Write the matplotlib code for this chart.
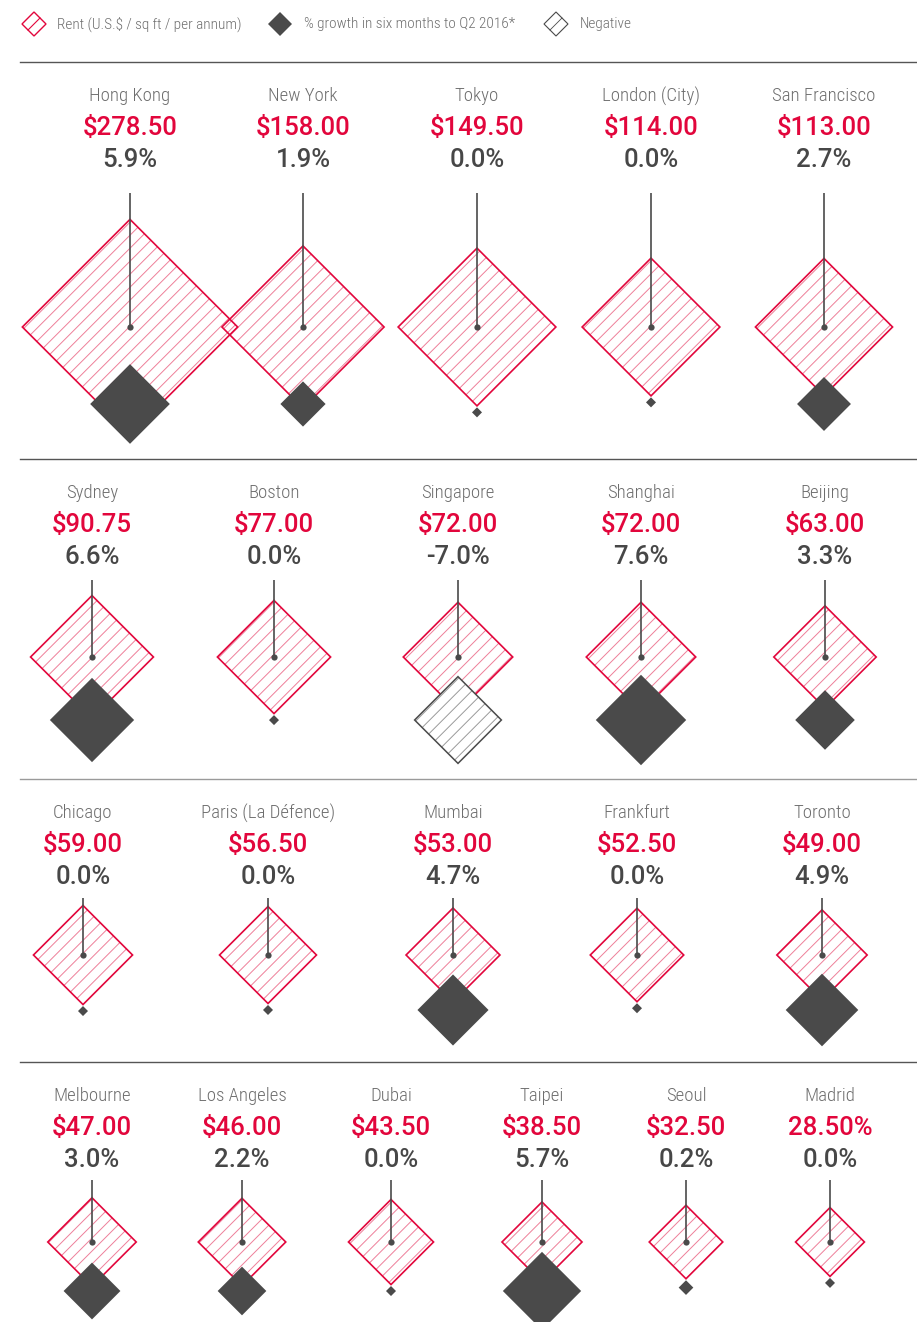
import matplotlib.pyplot as plt
from matplotlib.patches import Polygon
from matplotlib.collections import LineCollection
import numpy as np

# data
cities = ["Hong Kong", "New York", "Tokyo", "London (City)", "San Francisco",
          "Sydney", "Boston", "Singapore", "Shanghai", "Beijing",
          "Chicago", "Paris (La Défence)", "Mumbai", "Frankfurt", "Toronto",
          "Melbourne", "Los Angeles", "Dubai", "Taipei", "Seoul", "Madrid"]
rents = [278.50, 158.00, 149.50, 114.00, 113.00,
         90.75, 77.00, 72.00, 72.00, 63.00,
         59.00, 56.50, 53.00, 52.50, 49.00,
         47.00, 46.00, 43.50, 38.50, 32.50, 28.50]
rent_labels = ["$278.50", "$158.00", "$149.50", "$114.00", "$113.00",
               "$90.75", "$77.00", "$72.00", "$72.00", "$63.00",
               "$59.00", "$56.50", "$53.00", "$52.50", "$49.00",
               "$47.00", "$46.00", "$43.50", "$38.50", "$32.50", "28.50%"]
growth = [5.9, 1.9, 0.0, 0.0, 2.7,
          6.6, 0.0, -7.0, 7.6, 3.3,
          0.0, 0.0, 4.7, 0.0, 4.9,
          3.0, 2.2, 0.0, 5.7, 0.2, 0.0]
row_sizes = [5, 5, 5, 6]

# layout (pixels)
sep_y = [62, 459, 779, 1062]
col_x = [[130, 303, 477, 651, 824],
         [92, 274, 458, 641, 825],
         [83, 268, 453, 637, 822],
         [92, 242, 391, 542, 686, 830]]
center_y = [327, 657, 955, 1242]
grey_y = [404, 720, 1010, 1291]
stem_top = [193, 580, 898, 1180]

RED = "#e2063c"
PINK = "#ee7f99"
DARK = "#4a4a4a"
GREY_TXT = "#6e6e6e"
K_RENT = 6.45
K_GROW = 16.4
GAP = 13.0  # horizontal spacing of hatch lines

NARROW = ["Roboto Condensed", "Liberation Sans Narrow", "DejaVu Sans"]
NUMF = ["Roboto", "DejaVu Sans"]

fig = plt.figure(figsize=(9.17, 13.22), dpi=100)
ax = fig.add_axes([0, 0, 1, 1])
ax.set_xlim(0, 917)
ax.set_ylim(1322, 0)
ax.axis("off")


def diamond(cx, cy, h):
    return np.array([[cx, cy - h], [cx + h, cy], [cx, cy + h], [cx - h, cy]])


def hatched(cx, cy, h, edge, hatchc, z, lw=1.0, lines=True):
    base = Polygon(diamond(cx, cy, h), closed=True, facecolor="white",
                   edgecolor="none", lw=0, zorder=z)
    ax.add_patch(base)
    if lines:
        # '/' lines: y = -(x - cx) + cy + k
        ks = np.arange(-2 * h + GAP / 2, 2 * h, GAP)
        segs = [[(cx - 2 * h, cy + k + 2 * h), (cx + 2 * h, cy + k - 2 * h)] for k in ks]
        lc = LineCollection(segs, colors=hatchc, linewidths=0.7, zorder=z + 0.05)
        ax.add_collection(lc)
        lc.set_clip_path(base)
    ax.add_patch(Polygon(diamond(cx, cy, h), closed=True, fill=False,
                         edgecolor=edge, lw=lw, zorder=z + 0.1))


# legend
hatched(34, 24, 12, RED, PINK, 5, lines=False)
ax.plot([28, 40], [30, 18], color=RED, lw=0.8, zorder=6)
ax.text(57, 24, "Rent (U.S.$ / sq ft / per annum)", family=NARROW, fontsize=11,
        fontstretch="condensed", fontweight="light",
        color=GREY_TXT, va="center", ha="left")
ax.add_patch(Polygon(diamond(280, 24, 12), closed=True, facecolor=DARK, lw=0))
ax.text(304, 24, "% growth in six months to Q2 2016*", family=NARROW, fontsize=11,
        fontstretch="condensed", fontweight="light",
        color=GREY_TXT, va="center", ha="left")
hatched(556, 24, 12, DARK, "#999999", 5, lw=0.8, lines=False)
ax.plot([550, 562], [30, 18], color=DARK, lw=0.6, zorder=6)
ax.text(580, 24, "Negative", family=NARROW, fontsize=11,
        fontstretch="condensed", fontweight="light",
        color=GREY_TXT, va="center", ha="left")

# separators
for r, y in enumerate(sep_y):
    ax.plot([20, 917], [y, y], color="#9a9a9a" if r == 2 else "#555555",
            lw=1.0, zorder=1)

i = 0
for r, n in enumerate(row_sizes):
    s = sep_y[r]
    for c in range(n):
        x = col_x[r][c]
        cy = center_y[r]
        rh = K_RENT * np.sqrt(rents[i])
        g = growth[i]
        gh = max(K_GROW * np.sqrt(abs(g)), 5)

        ax.text(x, s + 34, cities[i], family=NARROW, fontsize=13.5, color=GREY_TXT,
                fontstretch="condensed", fontweight="light",
                ha="center", va="center")
        ax.text(x, s + 66, rent_labels[i], family=NUMF, fontsize=18.5, color=RED,
                fontweight="medium", ha="center", va="center")
        ax.text(x, s + 98, f"{g:.1f}%", family=NUMF, fontsize=18.5, color="#474747",
                fontweight="medium", ha="center", va="center")

        hatched(x, cy, rh, RED, PINK, 3 + i * 0.01, lw=1.2)

        if gh < 8:
            gy = cy + rh + gh + 1.5
        else:
            gy = grey_y[r]
        if g < 0:
            hatched(x, gy, gh, DARK, "#9a9a9a", 4, lw=1.1)
        else:
            ax.add_patch(Polygon(diamond(x, gy, gh), closed=True, facecolor=DARK,
                                 lw=0, zorder=4))

        ax.plot([x, x], [stem_top[r], cy], color=DARK, lw=1.2, zorder=5,
                solid_capstyle="butt")
        ax.plot(x, cy, "o", color=DARK, ms=4.5, mew=0, zorder=5)
        i += 1

fig.savefig("out.png", dpi=100)
